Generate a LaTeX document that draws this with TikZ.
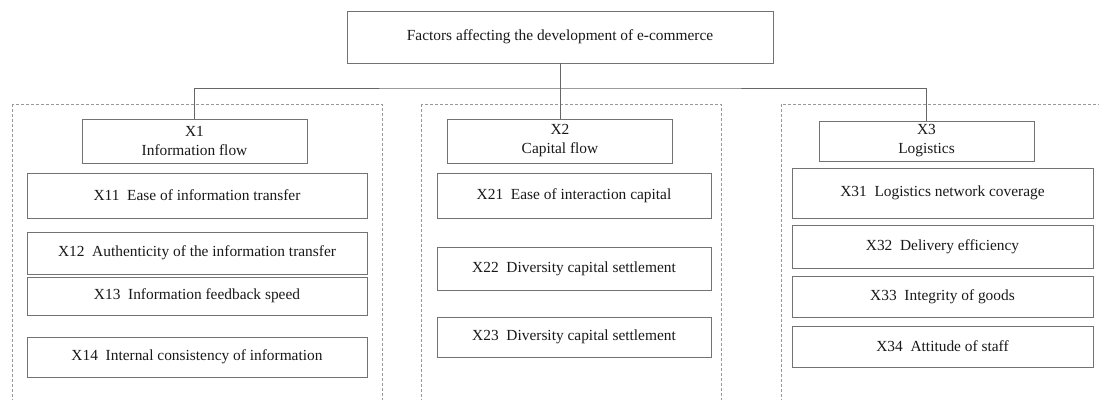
\documentclass[tikz,border=0pt]{standalone}
\usepackage{fontspec}
\setmainfont{Liberation Serif}
\begin{document}
\begin{tikzpicture}[x=1pt,y=-1pt,
  box/.style={draw=black!55,line width=0.9pt,fill=white,inner sep=0pt,align=center,text=black!90,
    font=\fontsize{15.4}{19}\selectfont},
  group/.style={draw=black!40,line width=0.8pt,dash pattern=on 3pt off 2pt},
  conn/.style={draw=black!60,line width=0.9pt}]
\clip (0,0) rectangle (1099,399);
\fill[white] (0,0) rectangle (1099,399);
% dashed groups
\draw[group] (12,104) rectangle (382,420);
\draw[group] (421,104) rectangle (721,420);
\draw[group] (781,104) rectangle (1120,420);
% top
\node[box,minimum width=426pt,minimum height=52pt] (top) at (560,37) {Factors affecting the development of e-commerce};
% categories
\node[box,minimum width=225pt,minimum height=44pt] (x1) at (194.5,141) {X1\\Information flow};
\node[box,minimum width=225pt,minimum height=44pt] (x2) at (560,141) {X2\\Capital flow};
\node[box,minimum width=215pt,minimum height=40pt] (x3) at (926.5,141) {X3\\Logistics};
% connectors
\coordinate (bus) at (560,88);
\draw[conn] (top.south) -- (bus);
\draw[conn] (x1.north) |- (bus) -| (x3.north);
\draw[conn] (bus) -- (x2.north);
% X1 items
\node[box,minimum width=340pt,minimum height=45pt] (x11) at (197,195.5) {X11\hspace{0.5em}Ease of information transfer};
\node[box,minimum width=340pt,minimum height=42pt] (x12) at (197,253) {X12\hspace{0.5em}Authenticity of the information transfer};
\node[box,minimum width=340pt,minimum height=38pt] (x13) at (197,296) {X13\hspace{0.5em}Information feedback speed};
\node[box,minimum width=340pt,minimum height=40pt] (x14) at (197,357) {X14\hspace{0.5em}Internal consistency of information};
% X2 items
\node[box,minimum width=274pt,minimum height=45pt] (x21) at (574,195.5) {X21\hspace{0.5em}Ease of interaction capital};
\node[box,minimum width=274pt,minimum height=43pt] (x22) at (574,268.5) {X22\hspace{0.5em}Diversity capital settlement};
\node[box,minimum width=274pt,minimum height=40pt] (x23) at (574,337) {X23\hspace{0.5em}Diversity capital settlement};
% X3 items
\node[box,minimum width=301pt,minimum height=50pt] (x31) at (942.5,193) {X31\hspace{0.5em}Logistics network coverage};
\node[box,minimum width=301pt,minimum height=43pt] (x32) at (942.5,246.5) {X32\hspace{0.5em}Delivery efficiency};
\node[box,minimum width=301pt,minimum height=41pt] (x33) at (942.5,296.5) {X33\hspace{0.5em}Integrity of goods};
\node[box,minimum width=301pt,minimum height=41pt] (x34) at (942.5,346.5) {X34\hspace{0.5em}Attitude of staff};
\end{tikzpicture}
\end{document}
